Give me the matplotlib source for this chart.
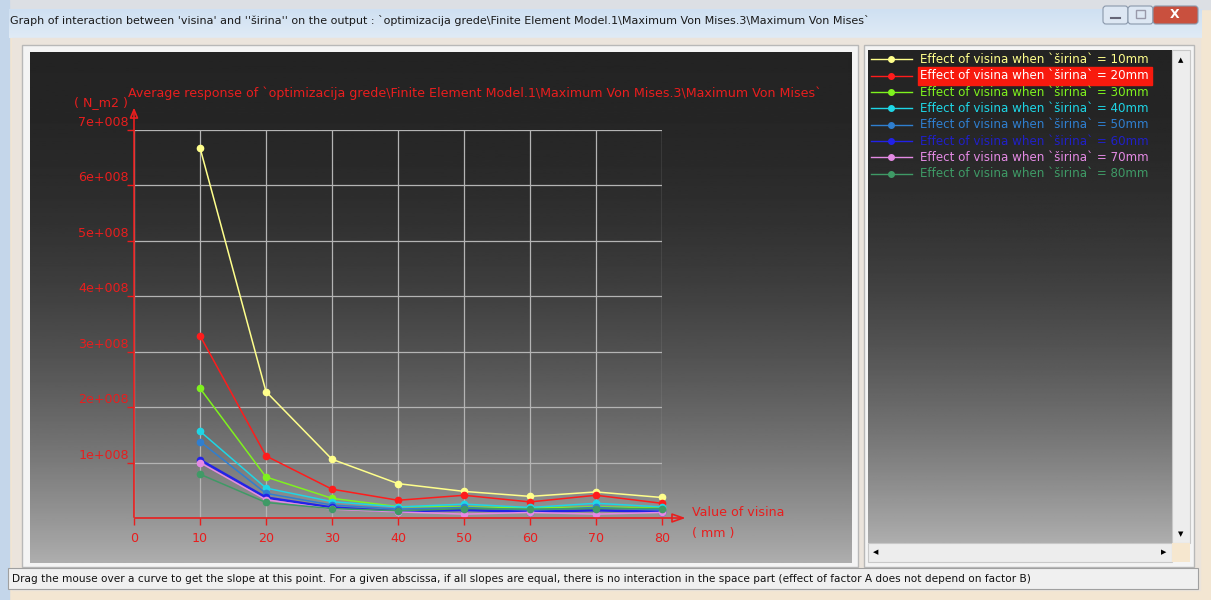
import numpy as np
import matplotlib.pyplot as plt
from matplotlib.colors import LinearSegmentedColormap
from matplotlib.patches import Rectangle, FancyBboxPatch
from matplotlib.transforms import ScaledTranslation

# values (units of 1e8 N_m2)
visina = [10, 20, 30, 40, 50, 60, 70, 80]
sirina_10 = [6.68, 2.28, 1.06, 0.62, 0.48, 0.39, 0.47, 0.37]
sirina_20 = [3.29, 1.12, 0.52, 0.32, 0.41, 0.29, 0.41, 0.265]
sirina_30 = [2.34, 0.74, 0.355, 0.205, 0.20, 0.18, 0.20, 0.18]
sirina_40 = [1.565, 0.54, 0.295, 0.20, 0.25, 0.19, 0.265, 0.20]
sirina_50 = [1.38, 0.445, 0.235, 0.16, 0.19, 0.145, 0.19, 0.145]
sirina_60 = [1.05, 0.37, 0.19, 0.12, 0.145, 0.11, 0.14, 0.11]
sirina_70 = [1.00, 0.33, 0.16, 0.11, 0.07, 0.10, 0.07, 0.10]
sirina_80 = [0.79, 0.28, 0.17, 0.13, 0.17, 0.16, 0.17, 0.17]
series = [sirina_10, sirina_20, sirina_30, sirina_40,
          sirina_50, sirina_60, sirina_70, sirina_80]
sirina_labels = ['10mm', '20mm', '30mm', '40mm', '50mm', '60mm', '70mm', '80mm']
colors = ['#ffff8c', '#ff1c1c', '#7ff21e', '#1ed6e6',
          '#2f7fd0', '#2222e8', '#e48ae4', '#3f9a66']
ytick_labels = ['1e+008', '2e+008', '3e+008', '4e+008', '5e+008', '6e+008', '7e+008']

RED = '#e81e1e'
W, H = 1211, 600
fig = plt.figure(figsize=(W / 100, H / 100), dpi=100)

# window chrome drawn in pixel coordinates
bg = fig.add_axes([0, 0, 1, 1])
bg.set_xlim(0, W)
bg.set_ylim(H, 0)
bg.axis('off')

bg.add_patch(Rectangle((0, 0), W, H, color='#f3e6d2'))
bg.add_patch(Rectangle((0, 0), W, 9, color='#dcdfe4'))
bg.add_patch(Rectangle((0, 0), 9, H, color='#c4d6ea'))
bg.imshow(np.linspace(0, 1, 50).reshape(-1, 1),
          cmap=LinearSegmentedColormap.from_list('tb', ['#cfe0f2', '#e0ebf6']),
          extent=(9, 1202, 38, 9), aspect='auto', zorder=1)
bg.text(10, 21, "Graph of interaction between 'visina' and ''širina'' on the output : `optimizacija grede\\Finite Element Model.1\\Maximum Von Mises.3\\Maximum Von Mises`",
        fontsize=8.0, va='center', ha='left', color='#1a1a1a', zorder=3)
# window buttons
for x0, w, c in [(1103, 25, '#dde7f3'), (1128, 25, '#dde7f3'), (1153, 45, '#c9503e')]:
    bg.add_patch(FancyBboxPatch((x0, 6), w, 18, boxstyle='round,pad=0,rounding_size=3',
                                fc=c, ec='#8a98ab', lw=0.8, zorder=3))
bg.text(1175, 15, 'X', color='white', fontsize=9, fontweight='bold', ha='center', va='center', zorder=4)
bg.plot([1111, 1120], [18, 18], color='#667', lw=1.5, zorder=4)
bg.add_patch(Rectangle((1136, 10), 9, 8, fc='none', ec='#99a', lw=1, zorder=4))

bg.add_patch(Rectangle((12, 38), 1188, 552, color='#ebe4dc', zorder=1))

# dark gradient panels
t = np.linspace(0, 1, 300) ** 2.1
grad = (0.14 + 0.54 * t).reshape(-1, 1)
bg.add_patch(Rectangle((22, 45), 836, 522, fc='#f4f4f4', ec='#b8b8b8', lw=1, zorder=1.5))
bg.imshow(grad, cmap='gray', vmin=0, vmax=1, extent=(30, 852, 563, 52), aspect='auto', zorder=2)
bg.add_patch(Rectangle((864, 45), 330, 522, fc='#f4f4f4', ec='#b8b8b8', lw=1, zorder=1.5))
bg.imshow(grad, cmap='gray', vmin=0, vmax=1, extent=(868, 1172, 543, 50), aspect='auto', zorder=2)
# scrollbars
bg.add_patch(Rectangle((1172, 50), 18, 493, fc='#ededed', ec='#c8c8c8', lw=0.8, zorder=2))
bg.add_patch(Rectangle((868, 543), 304, 19, fc='#ededed', ec='#c8c8c8', lw=0.8, zorder=2))
bg.add_patch(Rectangle((1172, 543), 18, 19, fc='#f6e7cf', zorder=2))
bg.text(1181, 60, '▲', fontsize=5, ha='center', va='center', zorder=3)
bg.text(1181, 534, '▼', fontsize=5, ha='center', va='center', zorder=3)
bg.text(876, 552, '◀', fontsize=5, ha='center', va='center', zorder=3)
bg.text(1164, 552, '▶', fontsize=5, ha='center', va='center', zorder=3)

# status bar
bg.add_patch(Rectangle((8, 568), 1190, 21, fc='#f0f0f0', ec='#a0a0a0', lw=0.8, zorder=2))
bg.text(12, 578.5, 'Drag the mouse over a curve to get the slope at this point. For a given abscissa, if all slopes are equal, there is no interaction in the space part (effect of factor A does not depend on factor B)',
        fontsize=7.6, va='center', ha='left', color='#111111', zorder=3)

# chart texts
bg.text(128, 93, 'Average response of `optimizacija grede\\Finite Element Model.1\\Maximum Von Mises.3\\Maximum Von Mises`',
        color=RED, fontsize=9.1, ha='left', va='center', zorder=3)
bg.text(128, 103, '( N_m2 )', color=RED, fontsize=9.1, ha='right', va='center', zorder=3)
bg.text(692, 513, 'Value of visina', color=RED, fontsize=9.1, ha='left', va='center', zorder=3)
bg.text(692, 533, '( mm )', color=RED, fontsize=9.1, ha='left', va='center', zorder=3)

# legend panel
row0, dy = 59.3, 16.35
for i, (lab, c) in enumerate(zip(sirina_labels, colors)):
    y = row0 + i * dy
    bg.plot([871, 912], [y, y], color=c, lw=1, zorder=3)
    bg.plot([891], [y], 'o', color=c, ms=4, zorder=3)
    tc = c
    if i == 1:
        bg.add_patch(Rectangle((918, y - 9), 234, 18, color='#f81a0e', zorder=3))
        tc = 'white'
    if i == 5:
        tc = '#2020c8'
    bg.text(920, y, 'Effect of visina when `širina` = ' + lab, color=tc,
            fontsize=8.6, ha='left', va='center', zorder=4)

# data axes
x0, x1, y0, y1 = 134, 662, 130, 518
ax = fig.add_axes([x0 / W, (H - y1) / H, (x1 - x0) / W, (y1 - y0) / H])
ax.set_facecolor('none')
ax.set_xlim(0, 80)
ax.set_ylim(0, 7e8)
for s in ax.spines.values():
    s.set_visible(False)
ax.set_xticks([0, 10, 20, 30, 40, 50, 60, 70, 80])
ax.set_xticklabels(['0', '10', '20', '30', '40', '50', '60', '70', '80'])
ax.set_yticks(np.arange(1, 8) * 1e8)
ax.set_yticklabels(ytick_labels)
ax.tick_params(colors=RED, labelsize=9.1, length=5, width=1, pad=3)
ax.tick_params(axis='x', pad=5)
for lbl in ax.get_yticklabels():
    lbl.set_transform(lbl.get_transform() + ScaledTranslation(6 / 100, 9 / 100, fig.dpi_scale_trans))
ax.grid(True, color='#b4b4b4', lw=0.9)

for vals, c in zip(series, colors):
    lw = 1.8 if c == '#2222e8' else 1.1
    ax.plot(visina, np.array(vals) * 1e8, '-o', color=c, lw=lw, ms=4.5, clip_on=False, zorder=3)

# axes with open arrow heads
ax.annotate('', xy=(0, 1.065), xytext=(0, -0.005), xycoords='axes fraction',
            arrowprops=dict(arrowstyle='-|>,head_length=0.6,head_width=0.25', ec=RED, fc='none', lw=1.2))
ax.annotate('', xy=(1.05, 0), xytext=(-0.004, 0), xycoords='axes fraction',
            arrowprops=dict(arrowstyle='-|>,head_length=0.8,head_width=0.28', ec=RED, fc='none', lw=1.2))

fig.savefig('out.png', dpi=100)
